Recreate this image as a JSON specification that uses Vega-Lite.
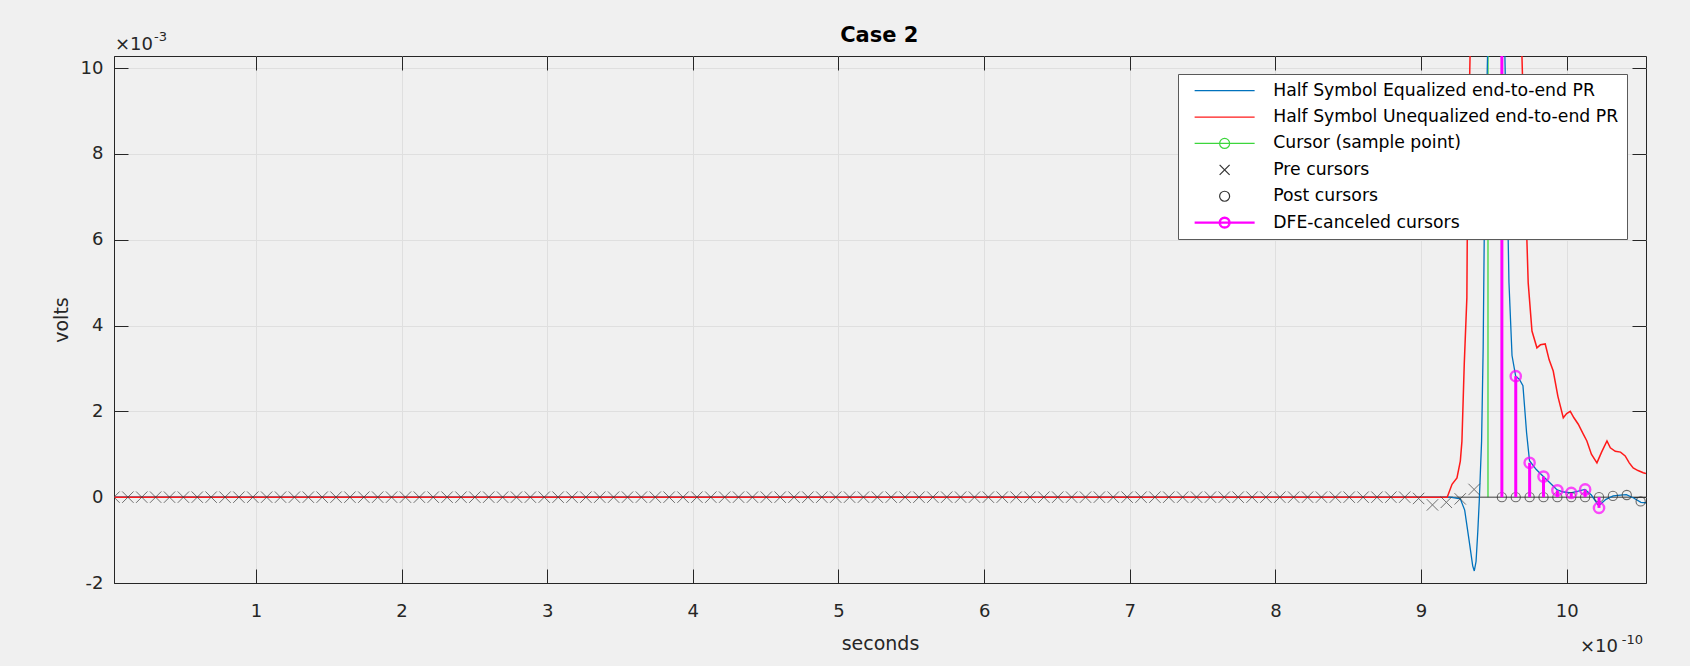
{
  "$schema": "https://vega.github.io/schema/vega-lite/v6.json",
  "autosize": "none",
  "width": 1532,
  "height": 527,
  "padding": {"left": 114, "top": 56, "right": 44, "bottom": 83},
  "background": "#f0f0f0",
  "config": {
    "view": {"fill": "#ffffff", "stroke": "#262626", "strokeWidth": 1},
    "axis": {
      "domainColor": "#262626",
      "domainWidth": 1,
      "tickColor": "#262626",
      "tickWidth": 1,
      "tickSize": -14,
      "gridColor": "#dfdfdf",
      "gridWidth": 1,
      "labelFont": "DejaVu Sans",
      "labelFontSize": 18,
      "labelColor": "#262626",
      "titleFont": "DejaVu Sans",
      "titleFontSize": 19,
      "titleFontWeight": "normal",
      "titleColor": "#262626"
    },
    "legend": {
      "orient": "none",
      "legendX": 1064,
      "legendY": 18,
      "fillColor": "#ffffff",
      "strokeColor": "#5a5a5a",
      "strokeWidth": 1,
      "padding": 8,
      "symbolSize": 100,
      "symbolStrokeWidth": 1.2,
      "symbolOpacity": 1,
      "symbolFillColor": "transparent",
      "labelFont": "DejaVu Sans",
      "labelFontSize": 17.25,
      "labelColor": "#000000",
      "labelOffset": 70,
      "labelLimit": 600,
      "rowPadding": 8.4
    }
  },
  "datasets": {
    "equalized": [
      {"t": 0.0253, "v": 0}, {"t": 9.2, "v": 0}, {"t": 9.27, "v": -0.04}, {"t": 9.3, "v": -0.3},
      {"t": 9.33, "v": -1.0}, {"t": 9.355, "v": -1.6}, {"t": 9.366, "v": -1.72}, {"t": 9.378, "v": -1.5},
      {"t": 9.39, "v": -0.8}, {"t": 9.4, "v": -0.1}, {"t": 9.416, "v": 1.3}, {"t": 9.427, "v": 3.5},
      {"t": 9.434, "v": 6.0}, {"t": 9.445, "v": 8.3}, {"t": 9.457, "v": 10.3}, {"t": 9.48, "v": 14.5},
      {"t": 9.51, "v": 16.5}, {"t": 9.545, "v": 13.5}, {"t": 9.576, "v": 10.3}, {"t": 9.604, "v": 5.0},
      {"t": 9.625, "v": 3.3}, {"t": 9.65, "v": 2.82}, {"t": 9.675, "v": 2.75}, {"t": 9.7, "v": 2.6},
      {"t": 9.725, "v": 1.5}, {"t": 9.745, "v": 0.85}, {"t": 9.79, "v": 0.65}, {"t": 9.84, "v": 0.48},
      {"t": 9.89, "v": 0.32}, {"t": 9.935, "v": 0.17}, {"t": 9.98, "v": 0.12}, {"t": 10.03, "v": 0.1},
      {"t": 10.08, "v": 0.14}, {"t": 10.125, "v": 0.18}, {"t": 10.17, "v": 0.05}, {"t": 10.22, "v": -0.2},
      {"t": 10.27, "v": -0.05}, {"t": 10.32, "v": 0.03}, {"t": 10.37, "v": 0.05}, {"t": 10.41, "v": 0.06},
      {"t": 10.46, "v": -0.02}, {"t": 10.51, "v": -0.12}, {"t": 10.545, "v": -0.13}
    ],
    "unequalized": [
      {"t": 0.0253, "v": 0}, {"t": 9.18, "v": 0}, {"t": 9.213, "v": 0.3}, {"t": 9.247, "v": 0.45},
      {"t": 9.27, "v": 0.84}, {"t": 9.281, "v": 1.3}, {"t": 9.297, "v": 3.1}, {"t": 9.315, "v": 4.65},
      {"t": 9.318, "v": 6.2}, {"t": 9.324, "v": 8.07}, {"t": 9.337, "v": 10.3}, {"t": 9.38, "v": 13.0},
      {"t": 9.45, "v": 15.0}, {"t": 9.53, "v": 13.0}, {"t": 9.58, "v": 11.5}, {"t": 9.62, "v": 11.2},
      {"t": 9.66, "v": 12.0}, {"t": 9.693, "v": 10.3}, {"t": 9.727, "v": 6.0}, {"t": 9.736, "v": 5.0},
      {"t": 9.762, "v": 3.87}, {"t": 9.796, "v": 3.48}, {"t": 9.82, "v": 3.55}, {"t": 9.853, "v": 3.57},
      {"t": 9.88, "v": 3.2}, {"t": 9.908, "v": 2.94}, {"t": 9.94, "v": 2.35}, {"t": 9.977, "v": 1.85},
      {"t": 10.0, "v": 1.95}, {"t": 10.025, "v": 2.0}, {"t": 10.05, "v": 1.85}, {"t": 10.08, "v": 1.7},
      {"t": 10.11, "v": 1.5}, {"t": 10.139, "v": 1.31}, {"t": 10.17, "v": 1.0}, {"t": 10.208, "v": 0.8},
      {"t": 10.24, "v": 1.05}, {"t": 10.277, "v": 1.31}, {"t": 10.3, "v": 1.15}, {"t": 10.334, "v": 1.07},
      {"t": 10.37, "v": 1.05}, {"t": 10.402, "v": 0.96}, {"t": 10.43, "v": 0.8}, {"t": 10.457, "v": 0.68},
      {"t": 10.49, "v": 0.62}, {"t": 10.526, "v": 0.57}, {"t": 10.545, "v": 0.55}
    ],
    "cursor": [{"t": 9.46, "v": 10.9}],
    "pre": [
      {"t": 0.0253, "v": 0}, {"t": 0.1206, "v": 0}, {"t": 0.2159, "v": 0}, {"t": 0.3112, "v": 0},
      {"t": 0.4065, "v": 0}, {"t": 0.5018, "v": 0}, {"t": 0.5971, "v": 0}, {"t": 0.6924, "v": 0},
      {"t": 0.7877, "v": 0}, {"t": 0.883, "v": 0}, {"t": 0.9783, "v": 0}, {"t": 1.0736, "v": 0},
      {"t": 1.1689, "v": 0}, {"t": 1.2642, "v": 0}, {"t": 1.3595, "v": 0}, {"t": 1.4548, "v": 0},
      {"t": 1.5501, "v": 0}, {"t": 1.6454, "v": 0}, {"t": 1.7407, "v": 0}, {"t": 1.836, "v": 0},
      {"t": 1.9313, "v": 0}, {"t": 2.0266, "v": 0}, {"t": 2.1219, "v": 0}, {"t": 2.2172, "v": 0},
      {"t": 2.3125, "v": 0}, {"t": 2.4078, "v": 0}, {"t": 2.5031, "v": 0}, {"t": 2.5984, "v": 0},
      {"t": 2.6937, "v": 0}, {"t": 2.789, "v": 0}, {"t": 2.8843, "v": 0}, {"t": 2.9796, "v": 0},
      {"t": 3.0749, "v": 0}, {"t": 3.1702, "v": 0}, {"t": 3.2655, "v": 0}, {"t": 3.3608, "v": 0},
      {"t": 3.4561, "v": 0}, {"t": 3.5514, "v": 0}, {"t": 3.6467, "v": 0}, {"t": 3.742, "v": 0},
      {"t": 3.8373, "v": 0}, {"t": 3.9326, "v": 0}, {"t": 4.0279, "v": 0}, {"t": 4.1232, "v": 0},
      {"t": 4.2185, "v": 0}, {"t": 4.3138, "v": 0}, {"t": 4.4091, "v": 0}, {"t": 4.5044, "v": 0},
      {"t": 4.5997, "v": 0}, {"t": 4.695, "v": 0}, {"t": 4.7903, "v": 0}, {"t": 4.8856, "v": 0},
      {"t": 4.9809, "v": 0}, {"t": 5.0762, "v": 0}, {"t": 5.1715, "v": 0}, {"t": 5.2668, "v": 0},
      {"t": 5.3621, "v": 0}, {"t": 5.4574, "v": 0}, {"t": 5.5527, "v": 0}, {"t": 5.648, "v": 0},
      {"t": 5.7433, "v": 0}, {"t": 5.8386, "v": 0}, {"t": 5.9339, "v": 0}, {"t": 6.0292, "v": 0},
      {"t": 6.1245, "v": 0}, {"t": 6.2198, "v": 0}, {"t": 6.3151, "v": 0}, {"t": 6.4104, "v": 0},
      {"t": 6.5057, "v": 0}, {"t": 6.601, "v": 0}, {"t": 6.6963, "v": 0}, {"t": 6.7916, "v": 0},
      {"t": 6.8869, "v": 0}, {"t": 6.9822, "v": 0}, {"t": 7.0775, "v": 0}, {"t": 7.1728, "v": 0},
      {"t": 7.2681, "v": 0}, {"t": 7.3634, "v": 0}, {"t": 7.4587, "v": 0}, {"t": 7.554, "v": 0},
      {"t": 7.6493, "v": 0}, {"t": 7.7446, "v": 0}, {"t": 7.8399, "v": 0}, {"t": 7.9352, "v": 0},
      {"t": 8.0305, "v": 0}, {"t": 8.1258, "v": 0}, {"t": 8.2211, "v": 0}, {"t": 8.3164, "v": 0},
      {"t": 8.4117, "v": 0}, {"t": 8.507, "v": 0}, {"t": 8.6023, "v": 0}, {"t": 8.6976, "v": 0},
      {"t": 8.7929, "v": 0}, {"t": 8.8882, "v": 0}, {"t": 8.9835, "v": -0.03}, {"t": 9.0788, "v": -0.18},
      {"t": 9.1741, "v": -0.12}, {"t": 9.2694, "v": -0.04}, {"t": 9.3647, "v": 0.18}
    ],
    "post": [
      {"t": 9.5553, "v": 0}, {"t": 9.6506, "v": 0}, {"t": 9.7459, "v": 0}, {"t": 9.8412, "v": 0},
      {"t": 9.9365, "v": 0}, {"t": 10.0318, "v": 0}, {"t": 10.1271, "v": 0}, {"t": 10.2224, "v": 0},
      {"t": 10.3177, "v": 0.03}, {"t": 10.413, "v": 0.05}, {"t": 10.5083, "v": -0.1}
    ],
    "dfe": [
      {"t": 9.5553, "v": 14.0}, {"t": 9.6506, "v": 2.82}, {"t": 9.7459, "v": 0.8}, {"t": 9.8412, "v": 0.48},
      {"t": 9.9365, "v": 0.16}, {"t": 10.0318, "v": 0.1}, {"t": 10.1271, "v": 0.18}, {"t": 10.2224, "v": -0.25}
    ],
    "legendItems": [
      {"series": "Half Symbol Equalized end-to-end PR"},
      {"series": "Half Symbol Unequalized end-to-end PR"},
      {"series": "Cursor (sample point)"},
      {"series": "Pre cursors"},
      {"series": "Post cursors"},
      {"series": "DFE-canceled cursors"}
    ]
  },
  "resolve": {"axis": {"x": "independent", "y": "independent"}},
  "layer": [
    {
      "data": {"name": "cursor"},
      "mark": {"type": "rule", "color": "#3cd63c", "strokeWidth": 1.3, "clip": true},
      "encoding": {
        "x": {
          "field": "t", "type": "quantitative",
          "scale": {"domain": [0.0253, 10.545], "nice": false, "zero": false},
          "axis": {"orient": "top", "values": [1, 2, 3, 4, 5, 6, 7, 8, 9, 10], "labels": false, "grid": false, "domain": false, "title": null}
        },
        "y": {
          "field": "v", "type": "quantitative",
          "scale": {"domain": [-2, 10.28], "nice": false, "zero": false},
          "axis": {"orient": "right", "values": [-2, 0, 2, 4, 6, 8, 10], "labels": false, "grid": false, "domain": false, "title": null}
        },
        "y2": {"datum": 0}
      }
    },
    {
      "layer": [
        {
          "data": {"values": [{}]},
          "mark": {"type": "rule", "color": "#404040", "strokeWidth": 1},
          "encoding": {"y": {"datum": 0, "type": "quantitative"}}
        },
        {
          "data": {"name": "equalized"},
          "mark": {"type": "line", "color": "#0072bd", "strokeWidth": 1.3, "clip": true},
          "encoding": {
            "x": {
              "field": "t", "type": "quantitative",
              "scale": {"domain": [0.0253, 10.545], "nice": false, "zero": false},
              "axis": {"orient": "bottom", "values": [1, 2, 3, 4, 5, 6, 7, 8, 9, 10], "labelExpr": "'' + datum.value", "grid": true, "labelPadding": 33, "title": "seconds", "titlePadding": 14}
            },
            "y": {
              "field": "v", "type": "quantitative",
              "scale": {"domain": [-2, 10.28], "nice": false, "zero": false},
              "axis": {"orient": "left", "values": [-2, 0, 2, 4, 6, 8, 10], "labelExpr": "'' + datum.value", "grid": true, "labelPadding": 25, "title": "volts", "titlePadding": 9}
            }
          }
        },
        {
          "data": {"name": "unequalized"},
          "mark": {"type": "line", "color": "#ff1a1a", "strokeWidth": 1.5, "clip": true},
          "encoding": {
            "x": {"field": "t", "type": "quantitative"},
            "y": {"field": "v", "type": "quantitative"}
          }
        },
        {
          "data": {"name": "cursor"},
          "mark": {"type": "point", "shape": "circle", "filled": false, "color": "#3cd63c", "size": 80, "strokeWidth": 1.2, "clip": true},
          "encoding": {
            "x": {"field": "t", "type": "quantitative"},
            "y": {"field": "v", "type": "quantitative"}
          }
        },
        {
          "data": {"name": "pre"},
          "mark": {"type": "point", "shape": "M-1,-1L1,1M-1,1L1,-1", "filled": false, "color": "#3a3a3a", "size": 130, "strokeWidth": 1, "clip": true},
          "encoding": {
            "x": {"field": "t", "type": "quantitative"},
            "y": {"field": "v", "type": "quantitative"}
          }
        },
        {
          "data": {"name": "post"},
          "mark": {"type": "point", "shape": "circle", "filled": false, "color": "#333333", "size": 85, "strokeWidth": 1.1, "clip": true},
          "encoding": {
            "x": {"field": "t", "type": "quantitative"},
            "y": {"field": "v", "type": "quantitative"}
          }
        },
        {
          "data": {"name": "dfe"},
          "mark": {"type": "rule", "color": "#ff00ff", "strokeWidth": 3, "clip": true},
          "encoding": {
            "x": {"field": "t", "type": "quantitative"},
            "y": {"field": "v", "type": "quantitative"},
            "y2": {"datum": 0}
          }
        },
        {
          "data": {"name": "dfe"},
          "mark": {"type": "point", "shape": "circle", "filled": false, "color": "#ff00ff", "size": 105, "strokeWidth": 2.4, "clip": true},
          "encoding": {
            "x": {"field": "t", "type": "quantitative"},
            "y": {"field": "v", "type": "quantitative"}
          }
        },
        {
          "data": {"values": [{}]},
          "mark": {"type": "text", "text": "Case 2", "font": "DejaVu Sans", "fontSize": 21, "fontWeight": "bold", "color": "#000000", "align": "center", "baseline": "alphabetic", "dy": -14},
          "encoding": {
            "x": {"datum": 5.28, "type": "quantitative"},
            "y": {"datum": 10.28, "type": "quantitative"}
          }
        },
        {
          "data": {"values": [{}]},
          "mark": {"type": "text", "text": "×10", "font": "DejaVu Sans", "fontSize": 18, "color": "#262626", "align": "left", "baseline": "alphabetic", "dx": 1, "dy": -6},
          "encoding": {
            "x": {"datum": 0.0253, "type": "quantitative"},
            "y": {"datum": 10.28, "type": "quantitative"}
          }
        },
        {
          "data": {"values": [{}]},
          "mark": {"type": "text", "text": "-3", "font": "DejaVu Sans", "fontSize": 13, "color": "#262626", "align": "left", "baseline": "alphabetic", "dx": 40, "dy": -15},
          "encoding": {
            "x": {"datum": 0.0253, "type": "quantitative"},
            "y": {"datum": 10.28, "type": "quantitative"}
          }
        },
        {
          "data": {"values": [{}]},
          "mark": {"type": "text", "text": "×10", "font": "DejaVu Sans", "fontSize": 18, "color": "#262626", "align": "right", "baseline": "alphabetic", "dx": -28, "dy": 69},
          "encoding": {
            "x": {"datum": 10.545, "type": "quantitative"},
            "y": {"datum": -2, "type": "quantitative"}
          }
        },
        {
          "data": {"values": [{}]},
          "mark": {"type": "text", "text": "-10", "font": "DejaVu Sans", "fontSize": 13, "color": "#262626", "align": "right", "baseline": "alphabetic", "dx": -3, "dy": 61},
          "encoding": {
            "x": {"datum": 10.545, "type": "quantitative"},
            "y": {"datum": -2, "type": "quantitative"}
          }
        },
        {
          "data": {"name": "legendItems"},
          "mark": {"type": "point", "filled": false, "opacity": 0},
          "encoding": {
            "color": {
              "field": "series", "type": "nominal",
              "scale": {
                "domain": ["Half Symbol Equalized end-to-end PR", "Half Symbol Unequalized end-to-end PR", "Cursor (sample point)", "Pre cursors", "Post cursors", "DFE-canceled cursors"],
                "range": ["#0072bd", "#ff1a1a", "#3cd63c", "#333333", "#333333", "#ff00ff"]
              },
              "legend": {"title": null}
            },
            "shape": {
              "field": "series", "type": "nominal",
              "scale": {
                "domain": ["Half Symbol Equalized end-to-end PR", "Half Symbol Unequalized end-to-end PR", "Cursor (sample point)", "Pre cursors", "Post cursors", "DFE-canceled cursors"],
                "range": [
                  "M0,0H12",
                  "M0,0H12",
                  "M0,0H12M7,0A1,1 0 1,1 5,0A1,1 0 1,1 7,0",
                  "M5,-1L7,1M5,1L7,-1",
                  "M7,0A1,1 0 1,1 5,0A1,1 0 1,1 7,0",
                  "M0,-0.1H12M0,0.1H12M0,0H12M7.1,0A1.1,1.1 0 1,1 4.9,0A1.1,1.1 0 1,1 7.1,0M6.85,0A0.85,0.85 0 1,1 5.15,0A0.85,0.85 0 1,1 6.85,0"
                ]
              },
              "legend": {"title": null}
            }
          }
        }
      ]
    }
  ]
}
